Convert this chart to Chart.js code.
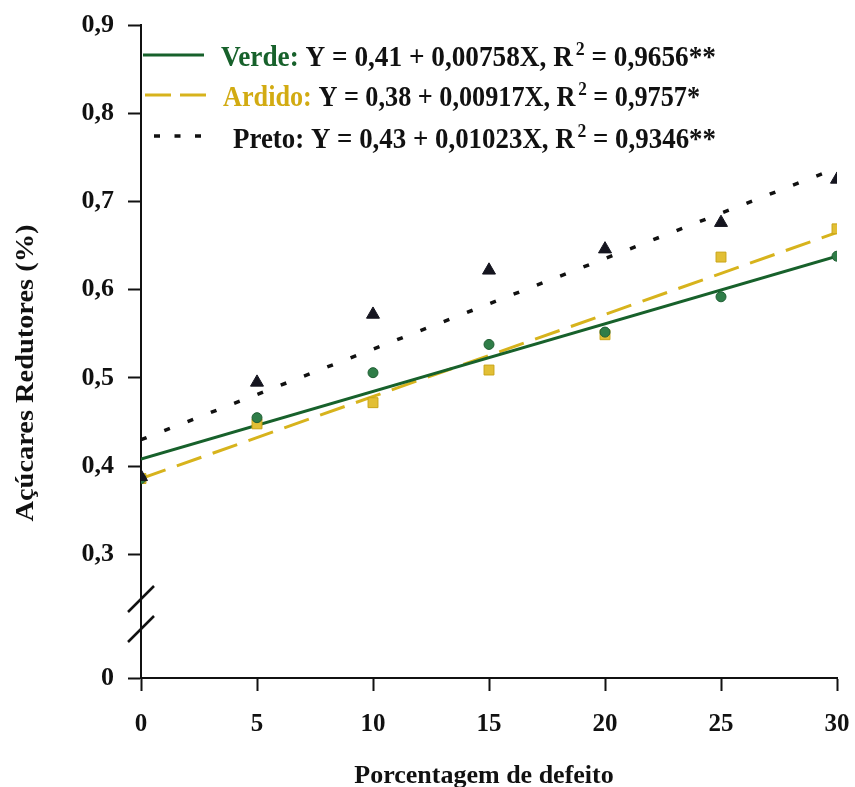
<!DOCTYPE html>
<html>
<head>
<meta charset="utf-8">
<script src="https://cdn.jsdelivr.net/npm/chart.js@4.4.1/dist/chart.umd.min.js"></script>
<style>
  html, body { margin: 0; padding: 0; background: #fff; }
  #wrap { width: 855px; height: 787px; position: relative; }
</style>
</head>
<body>
<div id="wrap"><canvas id="acucares" width="855" height="787"></canvas></div>
<script>
// Dados
const defeito = [0, 5, 10, 15, 20, 25, 30];
const verde  = [0.386, 0.455, 0.506, 0.538, 0.552, 0.592, 0.638];
const ardido = [0.386, 0.448, 0.472, 0.509, 0.549, 0.637, 0.669];
const preto  = [0.388, 0.495, 0.572, 0.622, 0.646, 0.676, 0.725];

// Retas de regressão (extremos X = 0 e X = 30)
const fitX = [0, 30];
const verdeFit  = [0.408, 0.638];
const ardidoFit = [0.386, 0.665];
const pretoFit  = [0.430, 0.738];

const yTicks = [0.16, 0.3, 0.4, 0.5, 0.6, 0.7, 0.8, 0.9]; // 0.16 = posição do "0" (eixo quebrado)
const yBreak = 0.16;

const legendas = [
  { nome: 'Verde:', cor: '#17612b', eq: 'Y = 0,41 + 0,00758X, R', r2: ' = 0,9656**' },
  { nome: 'Ardido:', cor: '#d2ab12', eq: 'Y = 0,38 + 0,00917X, R', r2: ' = 0,9757*' },
  { nome: 'Preto:', cor: '#111111', eq: 'Y = 0,43 + 0,01023X, R', r2: ' = 0,9346**' }
];

const FONT = '"Liberation Serif", "Times New Roman", "DejaVu Serif", serif';
const GREEN = '#17612b', GOLD = '#d7b31c', DARK = '#15151f';

const pts = (ys, xs) => ys.map((y, i) => ({ x: xs[i], y: y }));

// desenha legenda, quebra do eixo e títulos
const extras = {
  id: 'extras',
  afterDraw(chart) {
    const ctx = chart.ctx;
    ctx.save();

    // quebra do eixo Y
    const xa = chart.chartArea.left;
    ctx.strokeStyle = '#111';
    ctx.lineWidth = 2.5;
    [612, 642].forEach(yy => {
      ctx.beginPath();
      ctx.moveTo(xa - 13, yy);
      ctx.lineTo(xa + 13, yy - 26);
      ctx.stroke();
    });

    // legenda
    const rows = [66, 106, 148];
    const samples = [55, 95, 136];
    ctx.lineWidth = 3;
    ctx.strokeStyle = GREEN;
    ctx.beginPath(); ctx.moveTo(143, samples[0]); ctx.lineTo(204, samples[0]); ctx.stroke();
    ctx.strokeStyle = GOLD;
    ctx.setLineDash([26, 9]);
    ctx.beginPath(); ctx.moveTo(145, samples[1]); ctx.lineTo(207, samples[1]); ctx.stroke();
    ctx.strokeStyle = '#111';
    ctx.lineWidth = 3.5;
    ctx.setLineDash([6, 14.5]);
    ctx.beginPath(); ctx.moveTo(154, samples[2]); ctx.lineTo(204, samples[2]); ctx.stroke();
    ctx.setLineDash([]);

    const xs = [221, 223, 233];
    const xe = [716, 700, 716];
    ctx.textBaseline = 'alphabetic';
    ctx.textAlign = 'left';
    legendas.forEach((l, i) => {
      const big = 'bold 29px ' + FONT, small = 'bold 19px ' + FONT;
      ctx.font = big;
      const w1 = ctx.measureText(l.nome + ' ').width;
      const w2 = ctx.measureText(l.eq).width + 3;
      const w4 = ctx.measureText(l.r2).width;
      ctx.font = small;
      const w3 = ctx.measureText('2').width;
      const sx = (xe[i] - xs[i]) / (w1 + w2 + w3 + w4);
      ctx.save();
      ctx.translate(xs[i], rows[i]);
      ctx.scale(sx, 1);
      ctx.font = big;
      ctx.fillStyle = l.cor;
      ctx.fillText(l.nome, 0, 0);
      ctx.fillStyle = '#111';
      ctx.fillText(l.eq, w1, 0);
      ctx.fillText(l.r2, w1 + w2 + w3, 0);
      ctx.font = small;
      ctx.fillText('2', w1 + w2, -11);
      ctx.restore();
    });

    // títulos dos eixos
    ctx.fillStyle = '#111';
    ctx.font = 'bold 26px ' + FONT;
    ctx.textAlign = 'center';
    ctx.fillText('Porcentagem de defeito', 484, 783);
    const yTitle = 'Açúcares Redutores (%)';
    const k = 297 / ctx.measureText(yTitle).width;
    ctx.translate(33, 373);
    ctx.rotate(-Math.PI / 2);
    ctx.scale(k, 1);
    ctx.fillText(yTitle, 0, 0);
    ctx.restore();
  }
};

new Chart(document.getElementById('acucares'), {
  type: 'scatter',
  data: {
    datasets: [
      {
        label: 'Preto',
        data: pts(preto, defeito),
        pointStyle: 'triangle',
        pointRadius: 7.5,
        backgroundColor: DARK,
        borderColor: DARK,
        borderWidth: 1
      },
      {
        label: 'Verde',
        data: pts(verde, defeito),
        pointStyle: 'circle',
        pointRadius: 5,
        backgroundColor: '#2f7d48',
        borderColor: '#1f5e33',
        borderWidth: 1
      },
      {
        label: 'Ardido',
        data: pts(ardido, defeito),
        pointStyle: 'rect',
        pointRadius: 7,
        backgroundColor: '#e2bf35',
        borderColor: '#c9a416',
        borderWidth: 1
      },
      {
        label: 'Verde (ajuste)',
        data: pts(verdeFit, fitX),
        showLine: true,
        pointRadius: 0,
        borderColor: GREEN,
        borderWidth: 3
      },
      {
        label: 'Ardido (ajuste)',
        data: pts(ardidoFit, fitX),
        showLine: true,
        pointRadius: 0,
        borderColor: GOLD,
        borderWidth: 3,
        borderDash: [26, 12]
      },
      {
        label: 'Preto (ajuste)',
        data: pts(pretoFit, fitX),
        showLine: true,
        pointRadius: 0,
        borderColor: '#111',
        borderWidth: 3.5,
        borderDash: [6, 19]
      }
    ]
  },
  options: {
    responsive: false,
    animation: false,
    layout: { padding: { top: 25, right: 18, left: 0, bottom: 0 } },
    plugins: {
      legend: { display: false },
      tooltip: { enabled: false }
    },
    scales: {
      x: {
        type: 'linear',
        min: 0,
        max: 30,
        ticks: {
          stepSize: 5,
          padding: 19,
          color: '#111',
          font: { family: FONT, size: 25, weight: 'bold' }
        },
        grid: {
          drawOnChartArea: false,
          drawTicks: true,
          tickLength: 13,
          tickWidth: 2,
          tickColor: '#111'
        },
        border: { display: true, color: '#111', width: 2 },
        afterFit: (s) => { s.height = 109; s.paddingLeft = 0; s.paddingRight = 0; }
      },
      y: {
        type: 'linear',
        min: yBreak,
        max: 0.9,
        afterBuildTicks: (s) => { s.ticks = yTicks.map(v => ({ value: v })); },
        ticks: {
          padding: 14,
          color: '#111',
          font: { family: FONT, size: 26, weight: 'bold' },
          callback: (v) => v === yBreak ? '0' : v.toFixed(1).replace('.', ',')
        },
        grid: {
          drawOnChartArea: false,
          drawTicks: true,
          tickLength: 13,
          tickWidth: 2,
          tickColor: '#111'
        },
        border: { display: true, color: '#111', width: 2 },
        afterFit: (s) => { s.width = 141; s.paddingTop = 0; s.paddingBottom = 0; }
      }
    }
  },
  plugins: [extras]
});
</script>
</body>
</html>
